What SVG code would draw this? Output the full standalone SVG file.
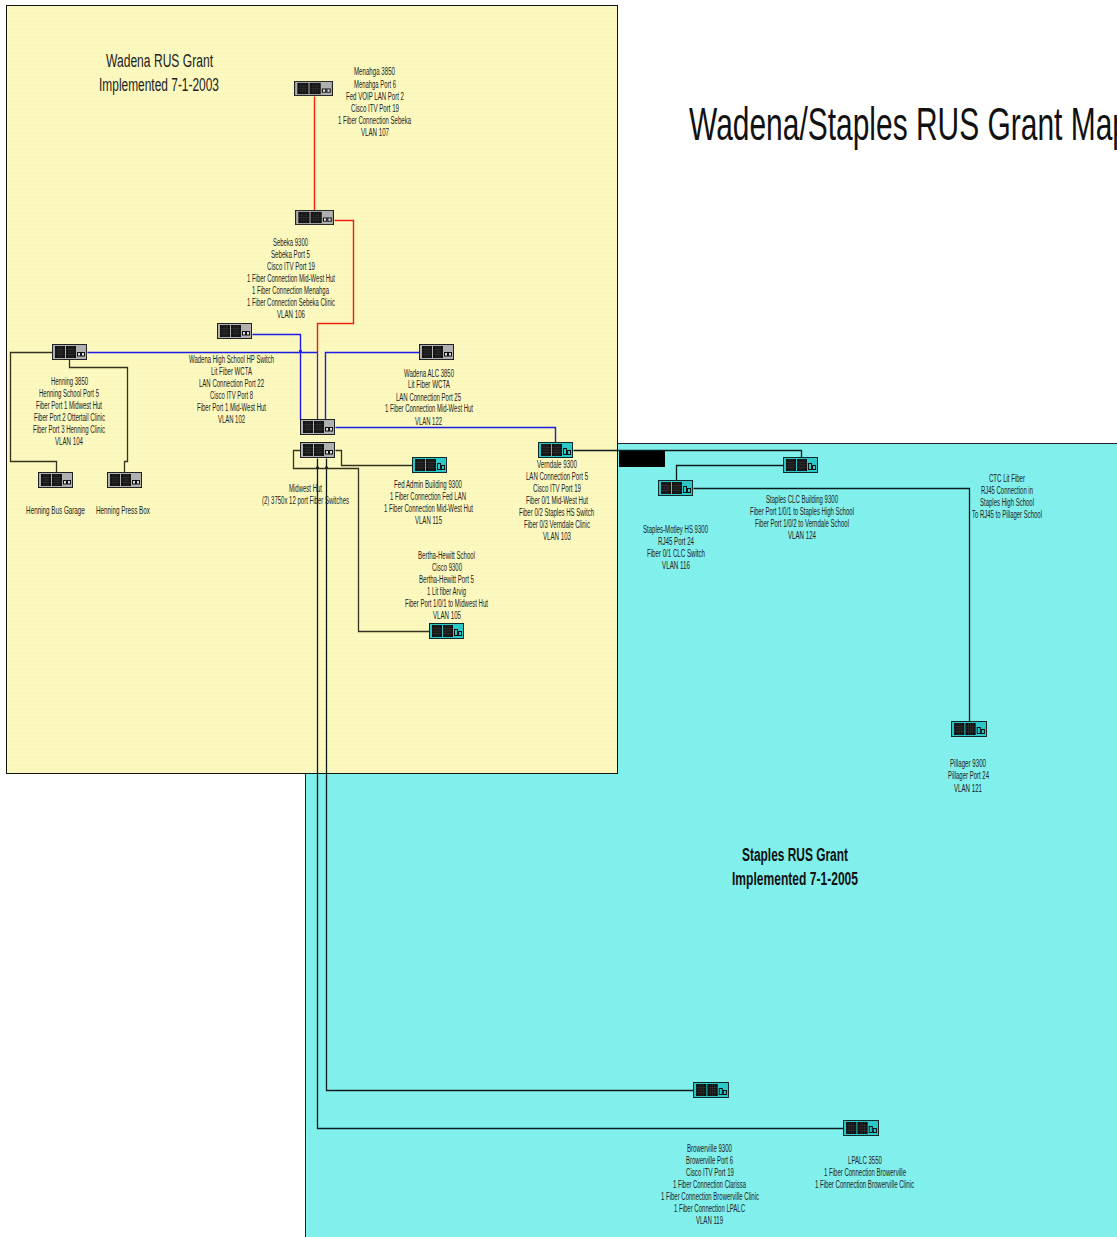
<svg xmlns="http://www.w3.org/2000/svg" xmlns:xlink="http://www.w3.org/1999/xlink" width="1117" height="1237" viewBox="0 0 1117 1237">
<style>
text{font-family:"Liberation Sans",Arial,sans-serif;font-size:10px;fill:#222;text-anchor:middle}
.t{font-size:18px;fill:#222}
.b{font-size:18px;font-weight:bold;fill:#111}
.big{font-size:47px;text-anchor:start;fill:#111}
.c{fill:none;stroke-linejoin:miter;stroke-width:1.3}
.r{stroke:#f02010;stroke-width:1.4}
.u{stroke:#1c1ce4;stroke-width:1.4}
.o{stroke:#34341e}
.k{stroke:#0c1c1c}
</style>
<defs>
<pattern id="py" width="4" height="4" patternUnits="userSpaceOnUse"><rect width="4" height="4" fill="#fbf9c0"/><rect width="2" height="2" fill="#f9f6b8"/></pattern>
<pattern id="pc" width="4" height="4" patternUnits="userSpaceOnUse"><rect width="4" height="4" fill="#7ff0ec"/><rect width="2" height="2" fill="#86eeea"/></pattern>
<symbol id="g" viewBox="0 0 35 16" preserveAspectRatio="none" overflow="visible">
<rect x=".5" y=".5" width="34" height="15" fill="#b0b0b0" stroke="#222" stroke-width="1"/>
<rect x="3" y="2" width="10" height="12" fill="#111"/><rect x="14" y="2" width="10" height="12" fill="#111"/>
<path d="M3 5.500h10M14 5.500h10M3 8h10M14 8h10M3 10.500h10M14 10.500h10M6 2v12M8 2v12M10 2v12M17 2v12M19 2v12M21 2v12" stroke="#3c3c3c" stroke-width=".5"/>
<rect x="25.500" y="8.500" width="3" height="3.500" fill="#ddd" stroke="#111"/><rect x="29.500" y="8.500" width="3" height="3.500" fill="#ddd" stroke="#111"/>
</symbol>
<symbol id="h" viewBox="0 0 35 16" preserveAspectRatio="none" overflow="visible">
<rect x=".5" y=".5" width="34" height="15" fill="#2cc8c8" stroke="#102828" stroke-width="1"/>
<rect x="3" y="2" width="10" height="12" fill="#111"/><rect x="14" y="2" width="10" height="12" fill="#111"/>
<path d="M3 5.500h10M14 5.500h10M3 8h10M14 8h10M3 10.500h10M14 10.500h10M6 2v12M8 2v12M10 2v12M17 2v12M19 2v12M21 2v12" stroke="#3c3c3c" stroke-width=".5"/>
<rect x="25.500" y="6.500" width="3" height="6" fill="none" stroke="#111"/><rect x="29.500" y="8.500" width="3" height="4" fill="none" stroke="#111"/>
</symbol>
</defs>
<rect width="1117" height="1237" fill="#fff"/>
<g id="panels">
<rect x="305.500" y="443.500" width="820" height="810" fill="url(#pc)" stroke="#223" stroke-width="1"/>
<rect x="6.500" y="5.500" width="611" height="768" fill="url(#py)" stroke="#111" stroke-width="1"/>
<rect x="619" y="450" width="46" height="17" fill="#000"/>
</g>
<g id="titles">
<text class="big" x="689" y="140" textLength="440" lengthAdjust="spacingAndGlyphs">Wadena/Staples RUS Grant Map</text>
<text class="t" x="159.500" y="67" textLength="107" lengthAdjust="spacingAndGlyphs">Wadena RUS Grant</text>
<text class="t" x="159" y="91" textLength="120" lengthAdjust="spacingAndGlyphs">Implemented 7-1-2003</text>
<text class="b" x="795" y="861" textLength="106" lengthAdjust="spacingAndGlyphs">Staples RUS Grant</text>
<text class="b" x="795" y="885" textLength="126" lengthAdjust="spacingAndGlyphs">Implemented 7-1-2005</text>
</g>
<g id="connectors" transform="translate(.5 .5)">
<path class="c k" d="M317 458V1128H843"/>
<path class="c k" d="M326 458V1090H693"/>
<path class="c o" d="M300 450H293V468H358V631H429"/>
<path class="c o" d="M335 450H341V465H412"/>
<path class="c o" d="M52 352H10V461H56V472"/>
<path class="c o" d="M69 359V367H127V461H124V472"/>
<path class="c k" d="M573 450H801V457"/>
<path class="c k" d="M783 465H676V480"/>
<path class="c k" d="M693 488H969V721"/>
<path class="c r" d="M314 96V210"/>
<path class="c r" d="M334 220H353V323H317V352"/>
<path class="c u" d="M252 334H300V419"/>
<path class="c u" d="M87 352H317"/>
<path class="c" stroke="#5a18b0" d="M317 352V419"/>
<path class="c u" d="M419 352H325V419"/>
<path class="c u" d="M335 427H555V442"/>
<circle cx="300" cy="350.500" r="1.500" fill="#1c1ce4"/>
<circle cx="317" cy="467" r="1.500" fill="#222"/>
<circle cx="326" cy="467" r="1.500" fill="#222"/>
</g>
<g id="menahga"><use href="#g" xlink:href="#g" x="294" y="81" width="39" height="15"/>
<text x="374.500" y="75" textLength="41" lengthAdjust="spacingAndGlyphs">Menahga 3850</text>
<text x="375" y="88" textLength="42" lengthAdjust="spacingAndGlyphs">Menahga Port 6</text>
<text x="375" y="100" textLength="58" lengthAdjust="spacingAndGlyphs">Fed VOIP LAN Port 2</text>
<text x="375" y="112" textLength="48" lengthAdjust="spacingAndGlyphs">Cisco ITV Port 19</text>
<text x="374.500" y="124" textLength="73" lengthAdjust="spacingAndGlyphs">1 Fiber Connection Sebeka</text>
<text x="375" y="136" textLength="28" lengthAdjust="spacingAndGlyphs">VLAN 107</text></g>
<g id="sebeka"><use href="#g" xlink:href="#g" x="295" y="210" width="39" height="15"/>
<text x="290.500" y="246" textLength="35" lengthAdjust="spacingAndGlyphs">Sebeka 9300</text>
<text x="290.500" y="258" textLength="39" lengthAdjust="spacingAndGlyphs">Sebeka Port 5</text>
<text x="291" y="270" textLength="48" lengthAdjust="spacingAndGlyphs">Cisco ITV Port 19</text>
<text x="291" y="282" textLength="88" lengthAdjust="spacingAndGlyphs">1 Fiber Connection Mid-West Hut</text>
<text x="290.500" y="294" textLength="77" lengthAdjust="spacingAndGlyphs">1 Fiber Connection Menahga</text>
<text x="291" y="306" textLength="88" lengthAdjust="spacingAndGlyphs">1 Fiber Connection Sebeka Clinic</text>
<text x="291" y="318" textLength="28" lengthAdjust="spacingAndGlyphs">VLAN 106</text></g>
<g id="wadena-hs"><use href="#g" xlink:href="#g" x="217" y="323" width="35" height="16"/>
<text x="231.500" y="363" textLength="85" lengthAdjust="spacingAndGlyphs">Wadena High School HP Switch</text>
<text x="231.500" y="375" textLength="41" lengthAdjust="spacingAndGlyphs">Lit Fiber WCTA</text>
<text x="231.500" y="387" textLength="65" lengthAdjust="spacingAndGlyphs">LAN Connection Port 22</text>
<text x="231.500" y="399" textLength="43" lengthAdjust="spacingAndGlyphs">Cisco ITV Port 8</text>
<text x="231.500" y="411" textLength="69" lengthAdjust="spacingAndGlyphs">Fiber Port 1 Mid-West Hut</text>
<text x="231.500" y="423" textLength="27" lengthAdjust="spacingAndGlyphs">VLAN 102</text></g>
<g id="wadena-alc"><use href="#g" xlink:href="#g" x="419" y="344" width="35" height="16"/>
<text x="429" y="377" textLength="50" lengthAdjust="spacingAndGlyphs">Wadena ALC 3850</text>
<text x="429" y="388" textLength="42" lengthAdjust="spacingAndGlyphs">Lit Fiber WCTA</text>
<text x="428.500" y="401" textLength="65" lengthAdjust="spacingAndGlyphs">LAN Connection Port 25</text>
<text x="429" y="412" textLength="88" lengthAdjust="spacingAndGlyphs">1 Fiber Connection Mid-West Hut</text>
<text x="428.500" y="425" textLength="27" lengthAdjust="spacingAndGlyphs">VLAN 122</text></g>
<g id="henning"><use href="#g" xlink:href="#g" x="52" y="344" width="35" height="16"/>
<text x="69.500" y="385" textLength="37" lengthAdjust="spacingAndGlyphs">Henning 3850</text>
<text x="69" y="397" textLength="60" lengthAdjust="spacingAndGlyphs">Henning School Port 5</text>
<text x="69" y="409" textLength="66" lengthAdjust="spacingAndGlyphs">Fiber Port 1 Midwest Hut</text>
<text x="69.500" y="421" textLength="71" lengthAdjust="spacingAndGlyphs">Fiber Port 2 Ottertail Clinic</text>
<text x="69" y="433" textLength="72" lengthAdjust="spacingAndGlyphs">Fiber Port 3 Henning Clinic</text>
<text x="69" y="445" textLength="28" lengthAdjust="spacingAndGlyphs">VLAN 104</text></g>
<g id="bus-garage"><use href="#g" xlink:href="#g" x="38" y="472" width="35" height="16"/>
<text transform="translate(55.500 514) scale(.63 1)">Henning Bus Garage</text></g>
<g id="press-box"><use href="#g" xlink:href="#g" x="107" y="472" width="35" height="16"/>
<text transform="translate(123 514) scale(.63 1)">Henning Press Box</text></g>
<g id="midwest-hut"><use href="#g" xlink:href="#g" x="300" y="419" width="35" height="16"/><use href="#g" xlink:href="#g" x="300" y="442" width="35" height="16"/>
<text x="305.500" y="492" textLength="33" lengthAdjust="spacingAndGlyphs">Midwest Hut</text>
<text x="305.500" y="504" textLength="87" lengthAdjust="spacingAndGlyphs">(2) 3750x 12 port Fiber Switches</text></g>
<g id="fed-admin"><use href="#h" xlink:href="#h" x="412" y="457" width="35" height="16"/>
<text x="428" y="488" textLength="68" lengthAdjust="spacingAndGlyphs">Fed Admin Building 9300</text>
<text x="428" y="500" textLength="76" lengthAdjust="spacingAndGlyphs">1 Fiber Connection Fed LAN</text>
<text x="428.500" y="512" textLength="89" lengthAdjust="spacingAndGlyphs">1 Fiber Connection Mid-West Hut</text>
<text x="428.500" y="524" textLength="27" lengthAdjust="spacingAndGlyphs">VLAN 115</text></g>
<g id="verndale"><use href="#h" xlink:href="#h" x="538" y="442" width="35" height="16"/>
<text x="557" y="468" textLength="40" lengthAdjust="spacingAndGlyphs">Verndale 9300</text>
<text x="557" y="480" textLength="62" lengthAdjust="spacingAndGlyphs">LAN Connection Port 5</text>
<text x="557" y="492" textLength="48" lengthAdjust="spacingAndGlyphs">Cisco ITV Port 19</text>
<text x="557" y="504" textLength="62" lengthAdjust="spacingAndGlyphs">Fiber 0/1 Mid-West Hut</text>
<text x="556.500" y="516" textLength="75" lengthAdjust="spacingAndGlyphs">Fiber 0/2 Staples HS Switch</text>
<text x="557" y="528" textLength="66" lengthAdjust="spacingAndGlyphs">Fiber 0/3 Verndale Clinic</text>
<text x="557" y="540" textLength="28" lengthAdjust="spacingAndGlyphs">VLAN 103</text></g>
<g id="bertha"><use href="#h" xlink:href="#h" x="429" y="623" width="35" height="16"/>
<text x="446.500" y="559" textLength="57" lengthAdjust="spacingAndGlyphs">Bertha-Hewitt School</text>
<text x="447" y="571" textLength="30" lengthAdjust="spacingAndGlyphs">Cisco 9300</text>
<text x="446.500" y="583" textLength="55" lengthAdjust="spacingAndGlyphs">Bertha-Hewitt Port 5</text>
<text x="446.500" y="595" textLength="39" lengthAdjust="spacingAndGlyphs">1 Lit fiber Arvig</text>
<text x="446.500" y="607" textLength="83" lengthAdjust="spacingAndGlyphs">Fiber Port 1/0/1 to Midwest Hut</text>
<text x="447" y="619" textLength="28" lengthAdjust="spacingAndGlyphs">VLAN 105</text></g>
<g id="staples-clc"><use href="#h" xlink:href="#h" x="783" y="457" width="35" height="16"/>
<text x="802" y="503" textLength="72" lengthAdjust="spacingAndGlyphs">Staples CLC Building 9300</text>
<text x="802" y="515" textLength="104" lengthAdjust="spacingAndGlyphs">Fiber Port 1/0/1 to Staples High School</text>
<text x="802" y="527" textLength="94" lengthAdjust="spacingAndGlyphs">Fiber Port 1/0/2 to Verndale School</text>
<text x="802" y="539" textLength="28" lengthAdjust="spacingAndGlyphs">VLAN 124</text></g>
<g id="staples-motley"><use href="#h" xlink:href="#h" x="658" y="480" width="35" height="16"/>
<text x="675.500" y="533" textLength="65" lengthAdjust="spacingAndGlyphs">Staples-Motley HS 9300</text>
<text x="676" y="545" textLength="36" lengthAdjust="spacingAndGlyphs">RJ45 Port 24</text>
<text x="676" y="557" textLength="58" lengthAdjust="spacingAndGlyphs">Fiber 0/1 CLC Switch</text>
<text x="676" y="569" textLength="28" lengthAdjust="spacingAndGlyphs">VLAN 116</text></g>
<g id="ctc">
<text x="1007" y="482" textLength="36" lengthAdjust="spacingAndGlyphs">CTC Lit Fiber</text>
<text x="1007" y="494" textLength="52" lengthAdjust="spacingAndGlyphs">RJ45 Connection in</text>
<text x="1007" y="506" textLength="54" lengthAdjust="spacingAndGlyphs">Staples High School</text>
<text x="1007" y="518" textLength="70" lengthAdjust="spacingAndGlyphs">To RJ45 to Pillager School</text></g>
<g id="pillager"><use href="#h" xlink:href="#h" x="951" y="721" width="36" height="16"/>
<text x="968" y="767" textLength="36" lengthAdjust="spacingAndGlyphs">Pillager 9300</text>
<text x="968.500" y="779" textLength="41" lengthAdjust="spacingAndGlyphs">Pillager Port 24</text>
<text x="968" y="792" textLength="28" lengthAdjust="spacingAndGlyphs">VLAN 121</text></g>
<g id="browerville"><use href="#h" xlink:href="#h" x="693" y="1082" width="36" height="16"/>
<text x="709.500" y="1152" textLength="45" lengthAdjust="spacingAndGlyphs">Browerville 9300</text>
<text x="709.500" y="1164" textLength="47" lengthAdjust="spacingAndGlyphs">Browerville Port 6</text>
<text x="710" y="1176" textLength="48" lengthAdjust="spacingAndGlyphs">Cisco ITV Port 19</text>
<text x="709.500" y="1188" textLength="73" lengthAdjust="spacingAndGlyphs">1 Fiber Connection Clarissa</text>
<text x="710" y="1200" textLength="98" lengthAdjust="spacingAndGlyphs">1 Fiber Connection Browerville Clinic</text>
<text x="709.500" y="1212" textLength="71" lengthAdjust="spacingAndGlyphs">1 Fiber Connection LPALC</text>
<text x="709.500" y="1224" textLength="27" lengthAdjust="spacingAndGlyphs">VLAN 119</text></g>
<g id="lpalc"><use href="#h" xlink:href="#h" x="843" y="1120" width="36" height="16"/>
<text x="865" y="1164" textLength="34" lengthAdjust="spacingAndGlyphs">LPALC 3550</text>
<text x="865" y="1176" textLength="82" lengthAdjust="spacingAndGlyphs">1 Fiber Connection Browerville</text>
<text x="864.500" y="1188" textLength="99" lengthAdjust="spacingAndGlyphs">1 Fiber Connection Browerville Clinic</text></g>
</svg>
